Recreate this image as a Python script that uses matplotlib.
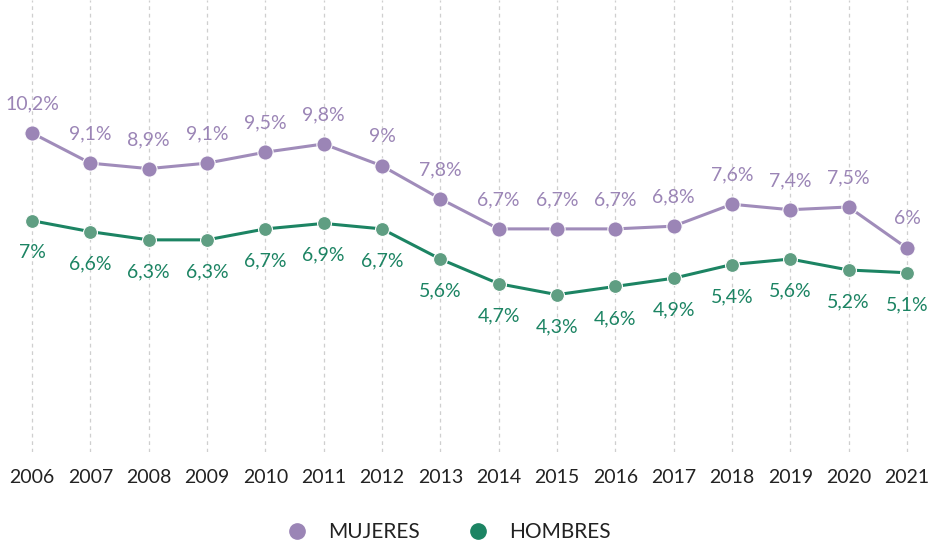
import matplotlib
matplotlib.use("Agg")
import matplotlib.pyplot as plt
from matplotlib.lines import Line2D

years = list(range(2006, 2022))
mujeres = [10.2, 9.1, 8.9, 9.1, 9.5, 9.8, 9.0, 7.8, 6.7, 6.7, 6.7, 6.8, 7.6, 7.4, 7.5, 6.0]
hombres = [7.0, 6.6, 6.3, 6.3, 6.7, 6.9, 6.7, 5.6, 4.7, 4.3, 4.6, 4.9, 5.4, 5.6, 5.2, 5.1]
series_names = ["MUJERES", "HOMBRES"]

purple = "#9b85b6"
purple_line = "#a08cba"
green = "#1c8463"
green_marker = "#5f9e82"

def fmt(v):
    s = ("%.1f" % v).rstrip("0").rstrip(".")
    return s.replace(".", ",") + "%"

plt.rcParams['font.family'] = ['Lato', 'DejaVu Sans']

fig = plt.figure(figsize=(9.32, 5.42), dpi=100)
ax = fig.add_axes([0, (542-452)/542, 1, 452/542])
ax.set_xlim(2006 - 32/58.33, 2006 + 900/58.33)
ax.set_ylim(10.2 - 319/27.4, 10.2 + 133/27.4)

for y in years:
    ax.axvline(y, color="#cfcfcf", lw=0.9, ls=(0, (3, 3)), zorder=0)

ax.plot(years, mujeres, color=purple_line, lw=2.2, zorder=2)
ax.plot(years, mujeres, 'o', color=purple, ms=11, mec="white", mew=0.8, zorder=3)
ax.plot(years, hombres, color=green, lw=2.2, zorder=2)
ax.plot(years, hombres, 'o', color=green_marker, ms=10, mec="white", mew=0.8, zorder=3)

for x, v in zip(years, mujeres):
    ax.annotate(fmt(v), (x, v), xytext=(0, 21), textcoords="offset points",
                ha="center", va="center", color=purple, fontsize=14)
for x, v in zip(years, hombres):
    ax.annotate(fmt(v), (x, v), xytext=(0, -23), textcoords="offset points",
                ha="center", va="center", color=green, fontsize=14)

ax.set_xticks(years)
ax.set_xticklabels([str(y) for y in years], fontsize=14, color="#222222")
ax.tick_params(axis="x", length=0, pad=12)
ax.set_yticks([])
for s in ax.spines.values():
    s.set_visible(False)
ax.patch.set_alpha(0)

handles = [Line2D([], [], marker='o', ls='', color=purple, ms=11),
           Line2D([], [], marker='o', ls='', color=green, ms=11)]
fig.legend(handles, series_names, loc="center", bbox_to_anchor=(0.476, 1 - 532/542),
           ncol=2, frameon=False, fontsize=15, handletextpad=0.5, columnspacing=1.8,
           labelcolor="#222222")

fig.savefig("out.png", dpi=100, facecolor="white")
